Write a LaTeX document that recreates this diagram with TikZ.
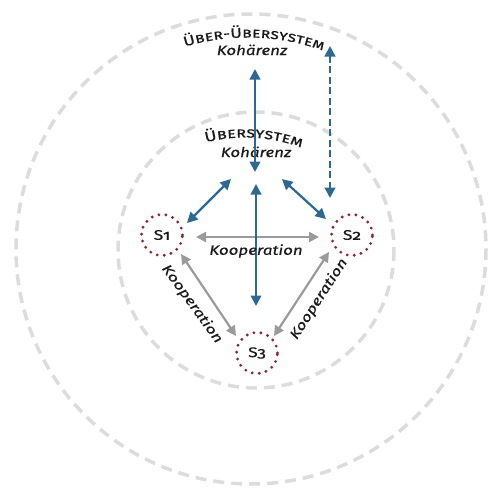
\documentclass[tikz,border=0pt]{standalone}
\usepackage{fontspec}
\setmainfont{Fira Sans}[Numbers=OldStyle, FakeBold=0.45, FakeStretch=1.25]
\usetikzlibrary{arrows.meta,decorations.text}
\definecolor{dblue}{HTML}{2C6892}
\definecolor{agray}{HTML}{9A9A9A}
\definecolor{cgray}{HTML}{DCDCDC}
\definecolor{dred}{HTML}{8C2634}
\definecolor{tblack}{HTML}{1A1A1A}
\tikzset{
  ring/.style={draw=cgray, line width=3.5pt, dash pattern=on 11pt off 7pt},
  sysnode/.style={circle, minimum size=41pt, inner sep=0pt, draw=dred, line width=3.2pt, line cap=round, dash pattern=on 0pt off 7.05pt, text=tblack, font=\fontsize{14}{14}\selectfont},
  bluearrow/.style={draw=dblue, line width=2.2pt, {Triangle[length=10.5pt,width=10.5pt]}-{Triangle[length=10.5pt,width=10.5pt]}},
  bluedash/.style={bluearrow, line width=2.8pt, dash pattern=on 7pt off 3.5pt},
  grayarrow/.style={draw=agray, line width=2.2pt, {Triangle[length=10pt,width=10pt]}-{Triangle[length=10pt,width=10pt]}},
  koop/.style={text=tblack, font=\fontsize{13.5}{13.5}\selectfont\itshape, inner sep=0pt},
  koh/.style={text=tblack, font=\fontsize{13.5}{13.5}\selectfont\itshape, inner sep=0pt, anchor=base},
}
\begin{document}
\begin{tikzpicture}[x=1pt,y=-1pt]
\useasboundingbox (0,0) rectangle (489,496);
% rings
\draw[ring] (251,249) circle (235);
\draw[ring] (256,250) circle (138);
% curved titles
\path[decorate, decoration={text along path, text align=center,
  text={|\fontsize{14}{14}\selectfont\color{tblack}\scshape|Über-Übersystem}}]
  (248,257.5) ++(226.6:220) arc (226.6:316.6:220);
\path[decorate, decoration={text along path, text align=center,
  text={|\fontsize{14.5}{14}\selectfont\color{tblack}\scshape|Übersystem}}]
  (245,297.5) ++(228:160) arc (228:318.4:160);
\node[koh] (kohA) at (252,55) {Kohärenz};
\node[koh] (kohB) at (256,157) {Kohärenz};
% systems
\node[sysnode] (s1) at (162,235) {S1};
\node[sysnode] (s2) at (352,235) {S2};
\node[sysnode] (s3) at (257,353) {S3};
% arrow endpoints
\coordinate (a1) at (255,69);  \coordinate (a2) at (255,172);
\coordinate (d1) at (330,46);  \coordinate (d2) at (330,198);
\coordinate (l1) at (187,223); \coordinate (l2) at (231,179);
\coordinate (r1) at (282,179); \coordinate (r2) at (326,219);
\coordinate (c1) at (256,184); \coordinate (c2) at (256,306);
\coordinate (h1) at (196,237); \coordinate (h2) at (319,237);
\coordinate (p1) at (181,254); \coordinate (p2) at (236,336);
\coordinate (q1) at (329,252); \coordinate (q2) at (274,336);
% gray arrows
\draw[grayarrow] (h1) -- (h2);
\draw[grayarrow] (p1) -- (p2);
\draw[grayarrow] (q1) -- (q2);
% blue arrows
\draw[bluearrow] (a1) -- (a2);
\draw[bluedash] (d1) -- (d2);
\draw[bluearrow] (l1) -- (l2);
\draw[bluearrow] (r1) -- (r2);
\draw[bluearrow] (c1) -- (c2);
% labels
\node[koop] (k1) at (256,251) {Kooperation};
\node[koop, rotate=-54] (k2) at (192,304) {Kooperation};
\node[koop, rotate=57] (k3) at (319,299) {Kooperation};
\end{tikzpicture}
\end{document}
